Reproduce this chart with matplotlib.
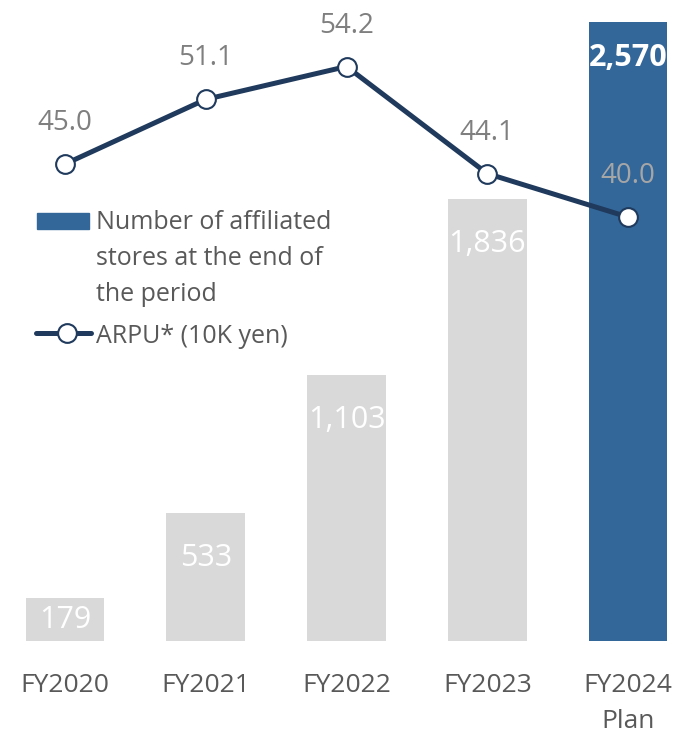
'''affiliated stores and ARPU, FY2020 - FY2024 plan'''

import matplotlib
matplotlib.use('Agg')
import matplotlib.pyplot as plt
from matplotlib.patches import Rectangle
from matplotlib.lines import Line2D

plt.rcParams['font.family'] = ['Open Sans', 'DejaVu Sans']

years = ['FY2020', 'FY2021', 'FY2022', 'FY2023', 'FY2024\nPlan']
stores = [179, 533, 1103, 1836, 2570]
arpu = [45.0, 51.1, 54.2, 44.1, 40.0]
plan_flags = [False, False, False, False, True]
legend_bar = ['Number of affiliated', 'stores at the end of', 'the period']
legend_line = 'ARPU* (10K yen)'

GRAY_BAR = '#D9D9D9'
BLUE_BAR = '#336699'
LINE_COL = '#1F3A5C'
LABEL_GRAY = '#7F7F7F'
TEXT_GRAY = '#595959'

W, H = 697, 734
fig = plt.figure(figsize=(W / 100, H / 100), dpi=100)
# axes spans from the bar baseline (y=641px) up to top of tallest bar (y=22px)
ax = fig.add_axes([0, (H - 641) / H, 1, (641 - 22) / H])
ax2 = ax.twinx()

x = list(range(len(years)))
colors = [BLUE_BAR if p else GRAY_BAR for p in plan_flags]
bars = ax.bar(x, stores, width=0.56, color=colors, zorder=1)

ax.set_xlim(-65 / 140.75, (W - 65) / 140.75)
ax.set_ylim(0, max(stores))
ax2.set_ylim(0, 58.4)

# bar labels, inside end
px_per_unit = (641 - 22) / max(stores)
for xi, v, p in zip(x, stores, plan_flags):
    hpx = v * px_per_unit
    off = 44 if p else min(53, hpx * 0.7)
    ax.annotate('{:,}'.format(v), (xi, v), xytext=(0, -off * 0.72),
                textcoords='offset points', ha='center', va='baseline',
                color='white', fontsize=22,
                fontweight='bold' if p else 'normal')

# ARPU line
ax2.plot(x, arpu, color=LINE_COL, lw=3.6, marker='o', ms=13.5,
         mfc='white', mec=LINE_COL, mew=1.5, zorder=3)
for xi, v, p in zip(x, arpu, plan_flags):
    ax2.annotate('{:.1f}'.format(v), (xi, v), xytext=(0, 34 * 0.72),
                 textcoords='offset points', ha='center', va='baseline',
                 color='#A6A6A6' if p else LABEL_GRAY, fontsize=20)

ax.set_xticks(x)
ax.set_xticklabels(years, fontsize=19, color=TEXT_GRAY, linespacing=1.6)
ax.tick_params(axis='x', length=0, pad=23)
ax.set_yticks([])
ax2.set_yticks([])
for a in (ax, ax2):
    for s in a.spines.values():
        s.set_visible(False)


# legend drawn by hand in figure pixels
def fx(px):
    return px / W


def fy(py):
    return (H - py) / H


fig.patches.append(Rectangle((fx(37), fy(229)), fx(89) - fx(37),
                             fy(213) - fy(229), transform=fig.transFigure,
                             color=BLUE_BAR))
for i, line in enumerate(legend_bar):
    fig.text(fx(96), fy(229 + 36 * i), line, fontsize=18, color=TEXT_GRAY,
             va='baseline', ha='left')
fig.lines.append(Line2D([fx(36), fx(91)], [fy(333), fy(333)],
                        transform=fig.transFigure, color=LINE_COL, lw=3.6,
                        solid_capstyle='round'))
fig.lines.append(Line2D([fx(67)], [fy(333)], transform=fig.transFigure,
                        marker='o', ms=13.5, mfc='white', mec=LINE_COL,
                        mew=1.5))
fig.text(fx(96), fy(343), legend_line, fontsize=18, color=TEXT_GRAY,
         va='baseline', ha='left')

fig.savefig('out.png', dpi=100)
